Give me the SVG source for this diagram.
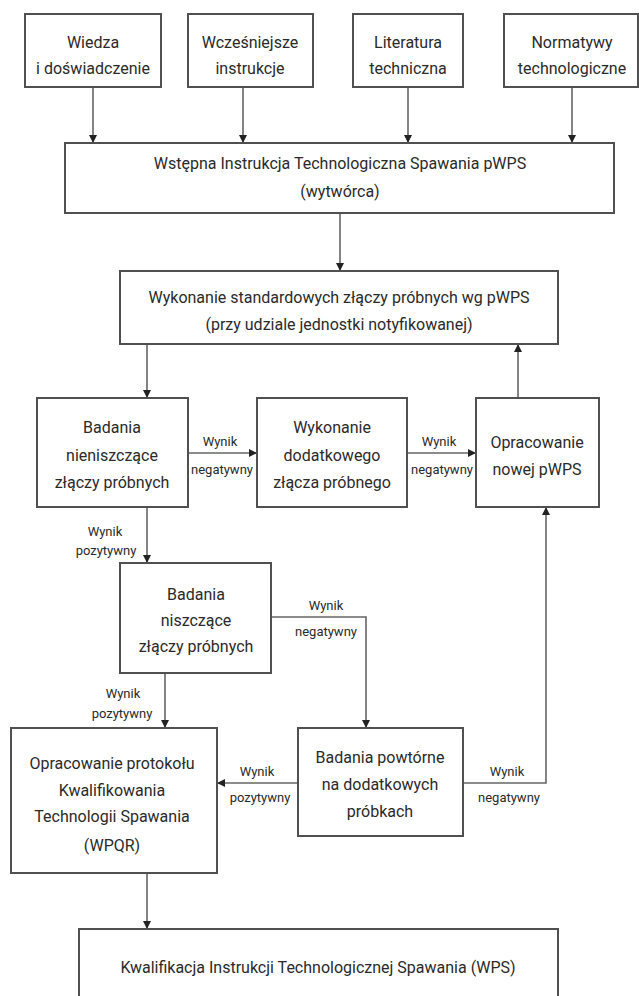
<svg xmlns="http://www.w3.org/2000/svg" width="639" height="996" viewBox="0 0 639 996">
<defs>
<style>
.box{fill:#fff;stroke:#505050;stroke-width:2}
.t{font-family:Roboto,"Liberation Sans",sans-serif;font-size:16px;fill:#2a2a2a;text-anchor:middle}
.l{font-family:Roboto,"Liberation Sans",sans-serif;font-size:13px;fill:#2a2a2a;text-anchor:middle}
.c{fill:none;stroke:#666;stroke-width:1.6}
</style>
<marker id="ah" viewBox="0 0 10 10" refX="10" refY="5" markerWidth="8" markerHeight="8" markerUnits="userSpaceOnUse" orient="auto">
<path d="M0,0 L10,5 L0,10 Z" fill="#222"/>
</marker>
</defs>
<rect width="639" height="996" fill="#fff"/>
<g id="connectors">
<path class="c" d="M93,87 V143" marker-end="url(#ah)"/>
<path class="c" d="M243,87 V143" marker-end="url(#ah)"/>
<path class="c" d="M408,87 V143" marker-end="url(#ah)"/>
<path class="c" d="M572,87 V143" marker-end="url(#ah)"/>
<path class="c" d="M340,213 V271" marker-end="url(#ah)"/>
<path class="c" d="M147,344 V398" marker-end="url(#ah)"/>
<path class="c" d="M518,398 V344" marker-end="url(#ah)"/>
<path class="c" d="M188,453 H257" marker-end="url(#ah)"/>
<path class="c" d="M407,453 H476" marker-end="url(#ah)"/>
<path class="c" d="M147,507 V563" marker-end="url(#ah)"/>
<path class="c" d="M271,617 H366 V728" marker-end="url(#ah)"/>
<path class="c" d="M165,673 V728" marker-end="url(#ah)"/>
<path class="c" d="M298,783 H217" marker-end="url(#ah)"/>
<path class="c" d="M463,783 H546 V507" marker-end="url(#ah)"/>
<path class="c" d="M147,873 V929" marker-end="url(#ah)"/>
<text class="l" x="220" y="446">Wynik</text>
<text class="l" x="222" y="474">negatywny</text>
<text class="l" x="439" y="446">Wynik</text>
<text class="l" x="442" y="474">negatywny</text>
<text class="l" x="105" y="536">Wynik</text>
<text class="l" x="106" y="555">pozytywny</text>
<text class="l" x="326" y="610">Wynik</text>
<text class="l" x="326" y="636">negatywny</text>
<text class="l" x="123" y="698">Wynik</text>
<text class="l" x="122" y="718">pozytywny</text>
<text class="l" x="257" y="776">Wynik</text>
<text class="l" x="260" y="802">pozytywny</text>
<text class="l" x="507" y="776">Wynik</text>
<text class="l" x="509" y="802">negatywny</text>
</g>
<g id="n1"><rect class="box" x="25" y="14" width="136" height="73"/><text class="t" x="93" y="48">Wiedza</text><text class="t" x="93" y="74">i doświadczenie</text></g>
<g id="n2"><rect class="box" x="188" y="14" width="125" height="73"/><text class="t" x="250" y="48">Wcześniejsze</text><text class="t" x="250" y="74">instrukcje</text></g>
<g id="n3"><rect class="box" x="353" y="14" width="110" height="73"/><text class="t" x="408" y="48">Literatura</text><text class="t" x="408" y="74">techniczna</text></g>
<g id="n4"><rect class="box" x="504" y="14" width="134" height="73"/><text class="t" x="572" y="48">Normatywy</text><text class="t" x="572" y="74">technologiczne</text></g>
<g id="n5"><rect class="box" x="65" y="143" width="549" height="70"/><text class="t" x="340" y="169">Wstępna Instrukcja Technologiczna Spawania pWPS</text><text class="t" x="340" y="197">(wytwórca)</text></g>
<g id="n6"><rect class="box" x="120" y="271" width="438" height="73"/><text class="t" x="339" y="303">Wykonanie standardowych złączy próbnych wg pWPS</text><text class="t" x="339" y="330">(przy udziale jednostki notyfikowanej)</text></g>
<g id="n7"><rect class="box" x="37" y="398" width="151" height="109"/><text class="t" x="112" y="433">Badania</text><text class="t" x="112" y="461">nieniszczące</text><text class="t" x="112" y="488">złączy próbnych</text></g>
<g id="n8"><rect class="box" x="257" y="398" width="150" height="109"/><text class="t" x="332" y="433">Wykonanie</text><text class="t" x="332" y="461">dodatkowego</text><text class="t" x="332" y="488">złącza próbnego</text></g>
<g id="n9"><rect class="box" x="476" y="398" width="123" height="109"/><text class="t" x="537" y="448">Opracowanie</text><text class="t" x="537" y="475">nowej pWPS</text></g>
<g id="n10"><rect class="box" x="120" y="563" width="151" height="110"/><text class="t" x="196" y="600">Badania</text><text class="t" x="196" y="626">niszczące</text><text class="t" x="196" y="652">złączy próbnych</text></g>
<g id="n11"><rect class="box" x="11" y="728" width="206" height="145"/><text class="t" x="112" y="769">Opracowanie protokołu</text><text class="t" x="112" y="796">Kwalifikowania</text><text class="t" x="112" y="822">Technologii Spawania</text><text class="t" x="112" y="851">(WPQR)</text></g>
<g id="n12"><rect class="box" x="298" y="728" width="165" height="108"/><text class="t" x="380" y="763">Badania powtórne</text><text class="t" x="380" y="790">na dodatkowych</text><text class="t" x="380" y="817">próbkach</text></g>
<g id="n13"><rect class="box" x="79" y="929" width="479" height="80"/><text class="t" x="318" y="973">Kwalifikacja Instrukcji Technologicznej Spawania (WPS)</text></g>
</svg>
